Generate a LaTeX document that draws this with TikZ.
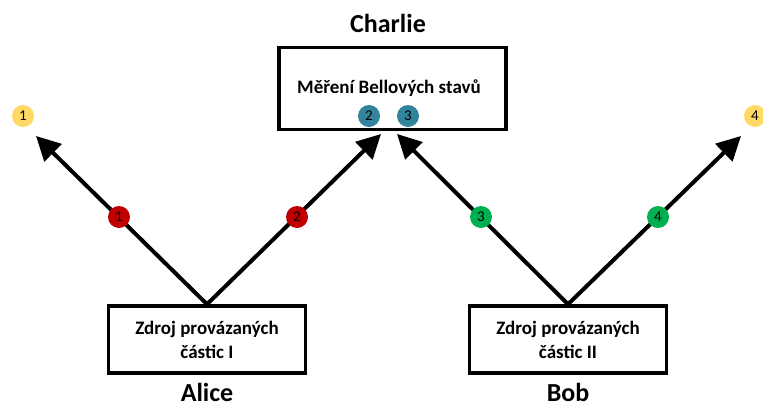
\documentclass[tikz,border=0pt]{standalone}
\usepackage{fontspec}
\setmainfont{Carlito}
\usetikzlibrary{arrows.meta}
\definecolor{cred}{HTML}{C00000}
\definecolor{cgreen}{HTML}{00B050}
\definecolor{cyellow}{HTML}{FFD966}
\definecolor{cteal}{HTML}{31849B}
\tikzset{
  boxnode/.style={draw=black, line width=3.5pt, inner sep=0pt, align=center, font=\fontsize{19}{24}\selectfont\bfseries},
  dotnode/.style={circle, inner sep=0pt, minimum size=22pt, font=\fontsize{15}{15}\selectfont},
  bigarrow/.style={line width=4pt, -{Triangle[length=24pt,width=24pt]}},
  namenode/.style={inner sep=0pt, font=\fontsize{26}{26}\selectfont\bfseries}
}
\begin{document}
\begin{tikzpicture}[x=1pt,y=-1pt]
\useasboundingbox (0,0) rectangle (763,410);
\node[boxnode, minimum width=227pt, minimum height=82pt] (charlie) at (392.5,88.5) {};
\node[font=\fontsize{19}{24}\selectfont\bfseries] (bell) at (389,88) {Měření Bellových stavů};
\node[namenode] (cname) at (388,23) {Charlie};
\node[boxnode, minimum width=197pt, minimum height=67pt] (alice) at (207,339.5) {Zdroj provázaných\\částic I};
\node[boxnode, minimum width=197pt, minimum height=67pt] (bob) at (568,339.5) {Zdroj provázaných\\částic II};
\node[namenode, anchor=base] (aname) at (207,401) {Alice};
\node[namenode, anchor=base] (bname) at (568,401) {Bob};
\coordinate (t1) at (36,136);
\coordinate (t2) at (381,134);
\coordinate (t3) at (397,134);
\coordinate (t4) at (741,136);
\draw[bigarrow] (alice.north) -- (t1);
\draw[bigarrow] (alice.north) -- (t2);
\draw[bigarrow] (bob.north) -- (t3);
\draw[bigarrow] (bob.north) -- (t4);
\node[dotnode, fill=cred] (r1) at (119,217) {1};
\node[dotnode, fill=cred] (r2) at (297,217) {2};
\node[dotnode, fill=cgreen] (g3) at (481,217) {3};
\node[dotnode, fill=cgreen] (g4) at (658,217) {4};
\node[dotnode, fill=cyellow] (y1) at (23,116) {1};
\node[dotnode, fill=cyellow] (y4) at (755,116) {4};
\node[dotnode, fill=cteal] (c2) at (369,116) {2};
\node[dotnode, fill=cteal] (c3) at (408,116) {3};
\end{tikzpicture}
\end{document}
